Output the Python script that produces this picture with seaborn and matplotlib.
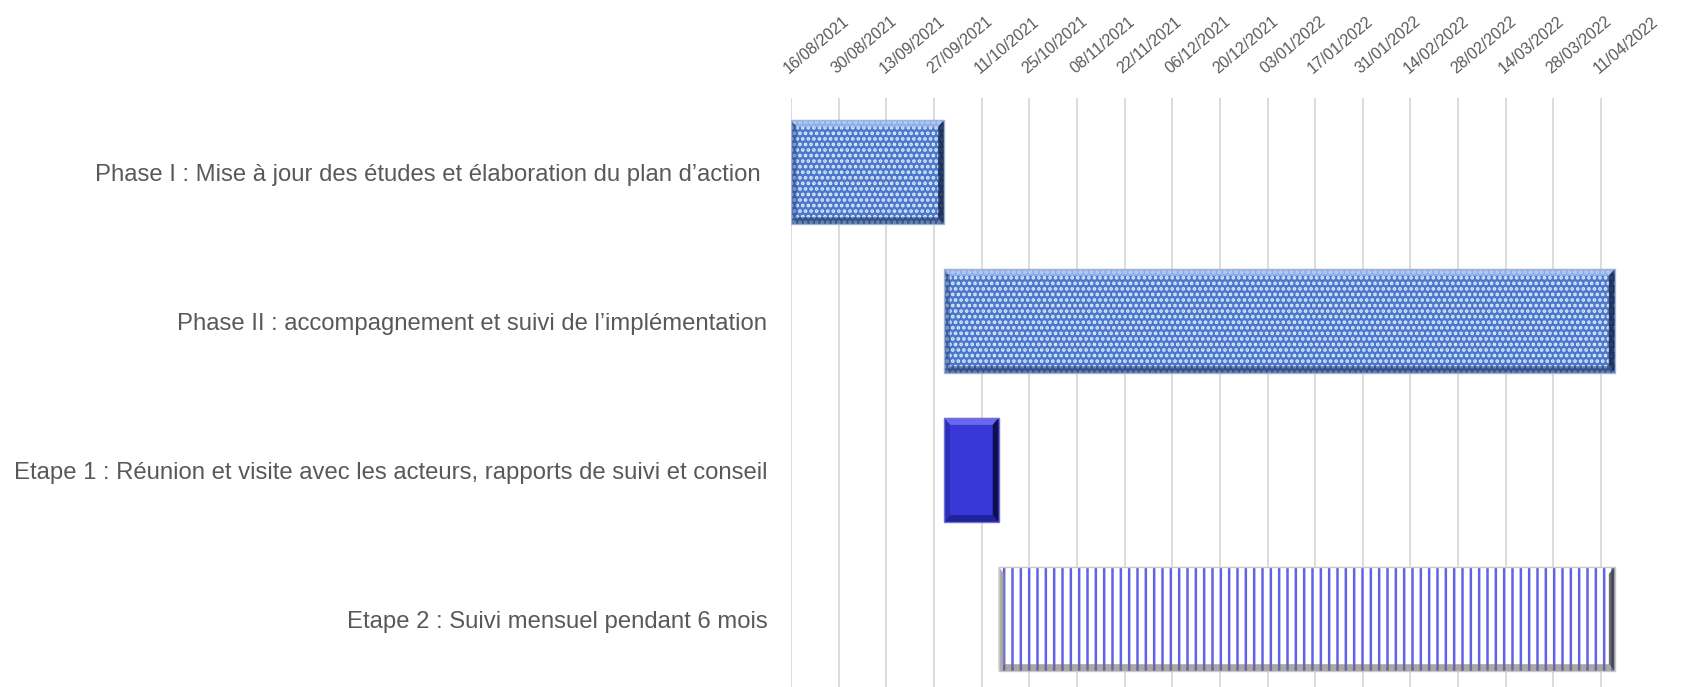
import matplotlib
matplotlib.use("Agg")
import matplotlib.pyplot as plt
import matplotlib.dates as mdates
from matplotlib.patches import Rectangle, Polygon
import seaborn as sns
import pandas as pd

# ---- data ----
tasks = [
    "Phase I : Mise à jour des études et élaboration du plan d’action ",
    "Phase II : accompagnement et suivi de l’implémentation",
    "Etape 1 : Réunion et visite avec les acteurs, rapports de suivi et conseil",
    "Etape 2 : Suivi mensuel pendant 6 mois",
]
starts = ["2021-08-16", "2021-09-30", "2021-09-30", "2021-10-16"]
ends = ["2021-09-30", "2022-04-15", "2021-10-16", "2022-04-15"]
tick_dates = ["2021-08-16", "2021-08-30", "2021-09-13", "2021-09-27", "2021-10-11",
              "2021-10-25", "2021-11-08", "2021-11-22", "2021-12-06", "2021-12-20",
              "2022-01-03", "2022-01-17", "2022-01-31", "2022-02-14", "2022-02-28",
              "2022-03-14", "2022-03-28", "2022-04-11"]
tick_labels = ["16/08/2021", "30/08/2021", "13/09/2021", "27/09/2021", "11/10/2021",
               "25/10/2021", "08/11/2021", "22/11/2021", "06/12/2021", "20/12/2021",
               "03/01/2022", "17/01/2022", "31/01/2022", "14/02/2022", "28/02/2022",
               "14/03/2022", "28/03/2022", "11/04/2022"]
x_min, x_max = "2021-08-16", "2022-04-20"

# ---- styling ----
sns.set_theme(style="white")
plt.rcParams['font.family'] = ['Liberation Sans', 'DejaVu Sans']
plt.rcParams['hatch.linewidth'] = 1.8

df = pd.DataFrame({"task": tasks,
                   "start": pd.to_datetime(starts),
                   "end": pd.to_datetime(ends)})
df["s"] = mdates.date2num(df["start"])
df["d"] = mdates.date2num(df["end"]) - df["s"]

fig = plt.figure(figsize=(16.85, 6.87), dpi=100)
ax = fig.add_axes([0.4694, -0.0095, 0.4990, 0.8675])

sns.barplot(data=df, x="d", y="task", orient="h", width=0.7, ax=ax,
            color="#4472C4", linewidth=0, zorder=3)

styles = [
    dict(face="#4A78CC", hatch="...", hcol="#E2EAF9", edge="#9FB3D9",
         top=("#A9C4F5", 0.75), right=("#15264A", 0.85), bottom=("#1F3563", 0.55), left=("#24407A", 0.45)),
    dict(face="#4A78CC", hatch="...", hcol="#E2EAF9", edge="#9FB3D9",
         top=("#A9C4F5", 0.75), right=("#15264A", 0.85), bottom=("#1F3563", 0.55), left=("#24407A", 0.45)),
    dict(face="#3838D8", hatch=None, hcol="#3838D8", edge="#6F6FD8",
         top=("#6E6EF2", 0.9), right=("#0B0B45", 0.9), bottom=("#1C1C88", 0.8), left=("#2626A8", 0.6)),
    dict(face="#FFFFFF", hatch="||", hcol="#6262E6", edge="#C8C8C8",
         top=("#FFFFFF", 0.0), right=("#3A3A3A", 0.75), bottom=("#6E6E6E", 0.6), left=("#8C8C8C", 0.75)),
]

bw_px = 7.0  # bevel width in pixels
fig.canvas.draw()
px_per_day = ax.transData.transform((1, 0))[0] - ax.transData.transform((0, 0))[0]
px_per_cat = abs(ax.transData.transform((0, 1))[1] - ax.transData.transform((0, 0))[1])
bx = bw_px / px_per_day
by = bw_px / px_per_cat

for p, s, st in zip(ax.patches, df["s"], styles):
    p.set_x(s)
    p.set_facecolor(st["face"])
    p.set_edgecolor(st["hcol"])
    p.set_linewidth(0)
    if st["hatch"]:
        p.set_hatch(st["hatch"])
    x0, y0, w, h = p.get_x(), p.get_y(), p.get_width(), p.get_height()
    x1, y1 = x0 + w, y0 + h  # y axis inverted: y0 is top
    bevels = {
        "top": [(x0, y0), (x1, y0), (x1 - bx, y0 + by), (x0 + bx, y0 + by)],
        "bottom": [(x0, y1), (x1, y1), (x1 - bx, y1 - by), (x0 + bx, y1 - by)],
        "left": [(x0, y0), (x0 + bx, y0 + by), (x0 + bx, y1 - by), (x0, y1)],
        "right": [(x1, y0), (x1 - bx, y0 + by), (x1 - bx, y1 - by), (x1, y1)],
    }
    for side, pts in bevels.items():
        col, a = st[side]
        if a > 0:
            ax.add_patch(Polygon(pts, closed=True, facecolor=col, alpha=a,
                                 edgecolor="none", zorder=4))
    ax.add_patch(Rectangle((x0, y0), w, h, fill=False, edgecolor=st["edge"],
                           linewidth=1.0, zorder=5))

ax.set_xlim(mdates.date2num(pd.Timestamp(x_min)), mdates.date2num(pd.Timestamp(x_max)))
ax.set_xticks(mdates.date2num(pd.to_datetime(tick_dates)))
ax.set_xticklabels(tick_labels, rotation=40, ha="left", va="bottom",
                   rotation_mode="anchor", fontsize=11.5, color="#595959")
ax.xaxis.tick_top()
ax.tick_params(axis="x", length=0, pad=15)
ax.tick_params(axis="y", length=0, pad=17, labelsize=17.2, labelcolor="#595959")
ax.grid(axis="x", color="#D9D9D9", linewidth=1.3)
ax.grid(axis="y", visible=False)
ax.set_axisbelow(True)
for sp in ax.spines.values():
    sp.set_visible(False)
ax.set_xlabel("")
ax.set_ylabel("")

fig.savefig("out.png", dpi=100)
